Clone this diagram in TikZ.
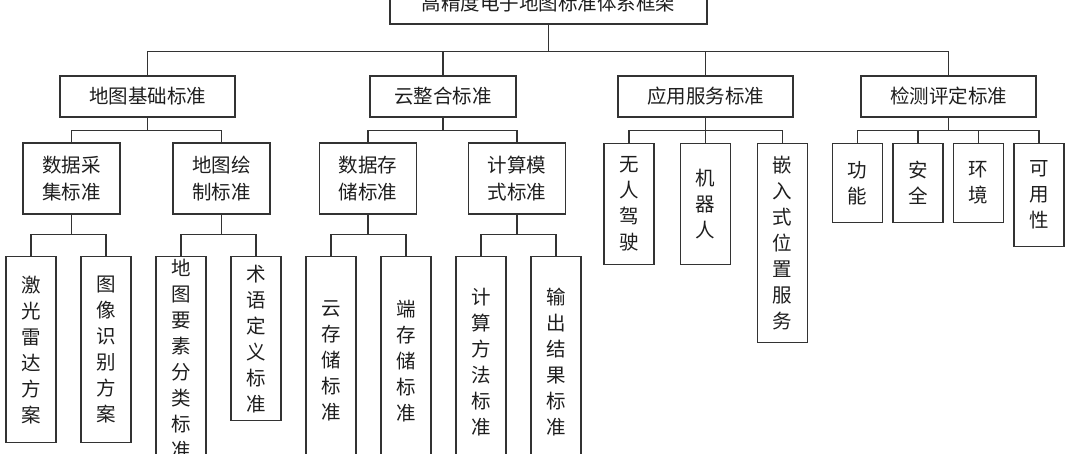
\documentclass[tikz,border=0pt]{standalone}
\usepackage{fontspec}
\usepackage{tikz}
\usetikzlibrary{positioning}
\newfontfamily\cjk{Noto Sans CJK SC}
\definecolor{linegray}{HTML}{333333}
\definecolor{inkgray}{HTML}{1E1E1E}

\begin{document}
\begin{tikzpicture}[
    x=1pt, y=-1pt,
    box/.style={rectangle, draw=linegray, line width=1.4pt, inner sep=0pt, align=center, text=inkgray, font=\cjk\fontsize{19.5}{27}\selectfont},
    topbox/.style={box, minimum width=317pt, minimum height=41pt},
    mainbox/.style={box, minimum width=175pt, minimum height=41pt},
    subbox/.style={box, minimum width=97pt, minimum height=71pt},
    leafbox/.style={box, anchor=north, minimum width=50pt, text width=20pt, font=\cjk\fontsize{19.5}{26}\selectfont},
    link/.style={draw=linegray, line width=1.4pt}
]
\useasboundingbox (0,0) rectangle (1080,453);
\clip (0,0) rectangle (1080,453);

% top level
\node[topbox] (frame) at (548.5,3.5) {高精度电子地图标准体系框架};

% first level
\node[mainbox] (base) at (147.5,96.5) {地图基础标准};
\node[mainbox, minimum width=146pt] (cloud) at (443,96.5) {云整合标准};
\node[mainbox] (app) at (705.5,96.5) {应用服务标准};
\node[mainbox] (test) at (948.5,96.5) {检测评定标准};

% second level
\node[subbox] (collect) at (71.5,178.5) {数据采\\集标准};
\node[subbox] (mapdraw) at (221.5,178.5) {地图绘\\制标准};
\node[subbox] (store) at (368,178.5) {数据存\\储标准};
\node[subbox] (compute) at (517,178.5) {计算模\\式标准};

\node[leafbox, minimum height=121pt] (auto) at (629,143) {无\\人\\驾\\驶};
\node[leafbox, minimum height=121pt] (robot) at (705.5,143) {机\\器\\人};
\node[leafbox, minimum height=199pt] (embed) at (782.5,143) {嵌\\入\\式\\位\\置\\服\\务};

\node[leafbox, minimum height=79pt] (func) at (857.5,143) {功\\能};
\node[leafbox, minimum height=79pt] (safe) at (918,143) {安\\全};
\node[leafbox, minimum height=79pt] (env) at (978.5,143) {环\\境};
\node[leafbox, minimum height=103pt] (usable) at (1039,143) {可\\用\\性};

% third level
\node[leafbox, minimum height=186pt] (lidar) at (31,256) {激\\光\\雷\\达\\方\\案};
\node[leafbox, minimum height=186pt] (image) at (106,256) {图\\像\\识\\别\\方\\案};
\node[leafbox, minimum height=204pt] (feature) at (181,256) {地\\图\\要\\素\\分\\类\\标\\准};
\node[leafbox, minimum height=164pt] (term) at (256,256) {术\\语\\定\\义\\标\\准};
\node[leafbox, minimum height=208pt] (cloudst) at (331,256) {云\\存\\储\\标\\准};
\node[leafbox, minimum height=208pt] (edgest) at (406,256) {端\\存\\储\\标\\准};
\node[leafbox, minimum height=210pt] (method) at (481,256) {计\\算\\方\\法\\标\\准};
\node[leafbox, minimum height=210pt] (output) at (556,256) {输\\出\\结\\果\\标\\准};

% connectors
\foreach \c in {base,cloud,app,test}
    \draw[link] (frame.south) -- ++(0,27) -| (\c.north);
\foreach \p/\c in {base/collect, base/mapdraw, cloud/store, cloud/compute,
                   app/auto, app/robot, app/embed,
                   test/func, test/safe, test/env, test/usable}
    \draw[link] (\p.south) -- ++(0,13) -| (\c.north);
\foreach \p/\c in {collect/lidar, collect/image, mapdraw/feature, mapdraw/term,
                   store/cloudst, store/edgest, compute/method, compute/output}
    \draw[link] (\p.south) -- ++(0,20) -| (\c.north);

\end{tikzpicture}
\end{document}
